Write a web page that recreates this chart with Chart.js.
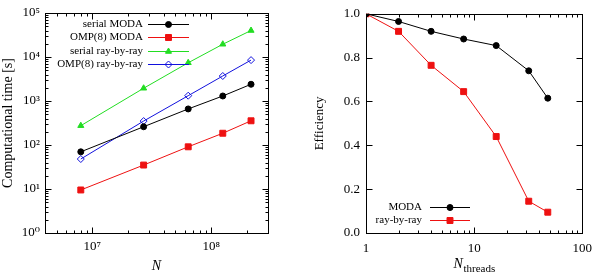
<!DOCTYPE html>
<html>
<head>
<meta charset="utf-8">
<script src="https://cdn.jsdelivr.net/npm/chart.js@4.4.1/dist/chart.umd.min.js"></script>
<style>
body { margin: 0; background: #fff; }
#wrap { width: 600px; height: 275px; display: flex; }
canvas { display: block; }
</style>
</head>
<body>
<div id="wrap">
<canvas id="timeChart" width="300" height="275"></canvas>
<canvas id="effChart" width="300" height="275"></canvas>
</div>
<script>
// left panel: run time vs problem size N
const nValues = [8e6, 2.7e7, 6.4e7, 1.25e8, 2.16e8];
const serialModa = [70, 260, 660, 1300, 2400];
const ompModa = [9.5, 35, 91, 185, 355];
const serialRay = [275, 1950, 7400, 19500, 40000];
const ompRay = [48, 350, 1320, 3700, 8500];

// right panel: efficiency vs number of threads
const threads = [1, 2, 4, 8, 16, 32, 48];
const effModa = [1.0, 0.965, 0.92, 0.885, 0.855, 0.74, 0.615];
const effRay = [1.0, 0.92, 0.765, 0.645, 0.44, 0.145, 0.095];
const effTicks = [0, 0.2, 0.4, 0.6, 0.8, 1.0];

const SERIF = "'Liberation Serif', 'DejaVu Serif', serif";
Chart.defaults.font.family = SERIF;
Chart.defaults.color = '#000';

const RED = '#ee1111';
const GREEN = '#22dd22';
const BLUE = '#1111dd';

const sup = '⁰¹²³⁴⁵⁶⁷⁸⁹';
function isPow10(v) {
    const e = Math.log10(v);
    return Math.abs(e - Math.round(e)) < 1e-9;
}
function powLabel(v) {
    if (!isPow10(v)) return '';
    const e = String(Math.round(Math.log10(v)));
    return '10' + e.split('').map(d => sup[+d]).join('');
}

// tick positions for the frame: 1..9 x 10^k on log axes, the listed values otherwise
function frameTicks(scale, linearValues) {
    if (scale.type !== 'logarithmic') {
        return linearValues.map(v => ({ v: v, major: true }));
    }
    const out = [];
    const k0 = Math.floor(Math.log10(scale.min)), k1 = Math.ceil(Math.log10(scale.max));
    for (let k = k0; k <= k1; k++) {
        for (let m = 1; m <= 9; m++) {
            const v = m * Math.pow(10, k);
            if (v >= scale.min * 0.999 && v <= scale.max * 1.001) out.push({ v: v, major: m === 1 });
        }
    }
    return out;
}

// gnuplot style frame with inward ticks on all four sides
const inwardTicks = {
    id: 'inwardTicks',
    afterDraw(chart, args, o) {
        const ctx = chart.ctx;
        const a = chart.chartArea;
        const sx = chart.scales.x, sy = chart.scales.y;
        const L = Math.round(a.left) + 0.5, R = Math.round(a.right) + 0.5;
        const T = Math.round(a.top) + 0.5, B = Math.round(a.bottom) + 0.5;
        ctx.save();
        ctx.strokeStyle = '#000';
        ctx.lineWidth = 1;
        ctx.beginPath();
        frameTicks(sx, o.xValues || []).forEach(t => {
            const px = Math.round(sx.getPixelForValue(t.v)) + 0.5;
            const len = t.major ? 6 : 3;
            ctx.moveTo(px, B); ctx.lineTo(px, B - len);
            ctx.moveTo(px, T); ctx.lineTo(px, T + len);
        });
        frameTicks(sy, o.yValues || []).forEach(t => {
            const py = Math.round(sy.getPixelForValue(t.v)) + 0.5;
            const len = t.major ? 6 : 3;
            ctx.moveTo(L, py); ctx.lineTo(L + len, py);
            ctx.moveTo(R, py); ctx.lineTo(R - len, py);
        });
        ctx.stroke();
        ctx.strokeRect(L, T, R - L, B - T);
        ctx.restore();
    }
};

// key with text on the left of the sample, like gnuplot
const sideLegend = {
    id: 'sideLegend',
    afterDraw(chart, args, o) {
        const ctx = chart.ctx;
        ctx.save();
        ctx.font = o.font;
        ctx.textAlign = 'right';
        ctx.textBaseline = 'middle';
        chart.data.datasets.forEach((ds, i) => {
            const y = Math.round(o.top + i * o.step) + 0.5;
            ctx.fillStyle = '#000';
            ctx.fillText(ds.label, o.textRight, y);
            ctx.strokeStyle = ds.borderColor;
            ctx.lineWidth = 1;
            ctx.beginPath();
            ctx.moveTo(o.x0, y);
            ctx.lineTo(o.x1, y);
            ctx.stroke();
            ctx.fillStyle = ds.backgroundColor;
            Chart.helpers.drawPoint(ctx, {
                pointStyle: ds.pointStyle, radius: ds.pointRadius, rotation: 0, borderWidth: 1
            }, (o.x0 + o.x1) / 2, y);
        });
        ctx.restore();
    }
};

// N_threads axis title with subscript
const threadsTitle = {
    id: 'threadsTitle',
    afterDraw(chart, args, o) {
        const ctx = chart.ctx;
        const a = chart.chartArea;
        ctx.save();
        ctx.fillStyle = '#000';
        ctx.textBaseline = 'alphabetic';
        ctx.font = 'italic 14px ' + SERIF;
        const w1 = ctx.measureText('N').width;
        ctx.font = '11px ' + SERIF;
        const w2 = ctx.measureText('threads').width;
        const x = (a.left + a.right) / 2 - (w1 + w2) / 2;
        ctx.font = 'italic 14px ' + SERIF;
        ctx.fillText('N', x, o.y);
        ctx.font = '11px ' + SERIF;
        ctx.fillText('threads', x + w1 + 0.5, o.y + 4);
        ctx.restore();
    }
};

function series(label, xs, ys, color, style, radius, fill) {
    return {
        label: label,
        data: xs.map((x, i) => ({ x: x, y: ys[i] })),
        borderColor: color,
        backgroundColor: fill || color,
        pointBackgroundColor: fill || color,
        pointStyle: style,
        pointRadius: radius,
        pointBorderWidth: 1,
        borderWidth: 1,
        tension: 0,
    };
}

const tickFont = { size: 13 };

new Chart(document.getElementById('timeChart'), {
    type: 'line',
    data: {
        datasets: [
            series('serial MODA', nValues, serialModa, '#000', 'circle', 3),
            series('OMP(8) MODA', nValues, ompModa, RED, 'rect', 4.2),
            series('serial ray-by-ray', nValues, serialRay, GREEN, 'triangle', 3.5),
            series('OMP(8) ray-by-ray', nValues, ompRay, BLUE, 'rectRot', 3.5, 'rgba(255,255,255,0)'),
        ]
    },
    options: {
        responsive: false,
        animation: false,
        layout: { padding: { top: 13, right: 32, left: 0, bottom: 0 } },
        plugins: {
            legend: { display: false },
            tooltip: { enabled: false },
            sideLegend: { font: '11px ' + SERIF, textRight: 143, x0: 148, x1: 189, top: 24.3, step: 13.1 },
            inwardTicks: {},
        },
        scales: {
            x: {
                type: 'logarithmic',
                min: 4e6,
                max: 3e8,
                grid: { display: false, drawTicks: false },
                border: { display: false },
                ticks: { font: tickFont, padding: 6, autoSkip: false, maxRotation: 0, callback: (v) => powLabel(v) },
                title: { display: true, text: 'N', font: { size: 14, style: 'italic' }, padding: 0 },
                afterFit: (s) => { s.height = 42; },
            },
            y: {
                type: 'logarithmic',
                min: 1,
                max: 1e5,
                grid: { display: false, drawTicks: false },
                border: { display: false },
                ticks: { font: tickFont, padding: 5, autoSkip: false, callback: (v) => powLabel(v) },
                title: { display: true, text: 'Computational time [s]', font: { size: 14 }, padding: 0 },
                afterFit: (s) => { s.width = 45; },
            }
        }
    },
    plugins: [inwardTicks, sideLegend]
});

new Chart(document.getElementById('effChart'), {
    type: 'line',
    data: {
        datasets: [
            series('MODA', threads, effModa, '#000', 'circle', 3),
            series('ray-by-ray', threads, effRay, RED, 'rect', 4.2),
        ]
    },
    options: {
        responsive: false,
        animation: false,
        layout: { padding: { top: 13, right: 12, left: 0, bottom: 0 } },
        plugins: {
            legend: { display: false },
            tooltip: { enabled: false },
            sideLegend: { font: '11px ' + SERIF, textRight: 122, x0: 130, x1: 170, top: 207.3, step: 13 },
            threadsTitle: { y: 268 },
            inwardTicks: { yValues: effTicks },
        },
        scales: {
            x: {
                type: 'logarithmic',
                min: 1,
                max: 100,
                grid: { display: false, drawTicks: false },
                border: { display: false },
                ticks: { font: tickFont, padding: 8, autoSkip: false, maxRotation: 0, callback: (v) => (isPow10(v) ? String(v) : '') },
                afterFit: (s) => { s.height = 42; },
            },
            y: {
                min: 0,
                max: 1,
                grid: { display: false, drawTicks: false },
                border: { display: false },
                afterBuildTicks: (s) => { s.ticks = effTicks.map(v => ({ value: v })); },
                ticks: { font: tickFont, padding: 6, callback: (v) => v.toFixed(1) },
                title: { display: true, text: 'Efficiency', font: { size: 13 }, padding: { top: 12, bottom: 0 } },
                afterFit: (s) => { s.width = 66; },
            }
        }
    },
    plugins: [inwardTicks, sideLegend, threadsTitle]
});
</script>
</body>
</html>
